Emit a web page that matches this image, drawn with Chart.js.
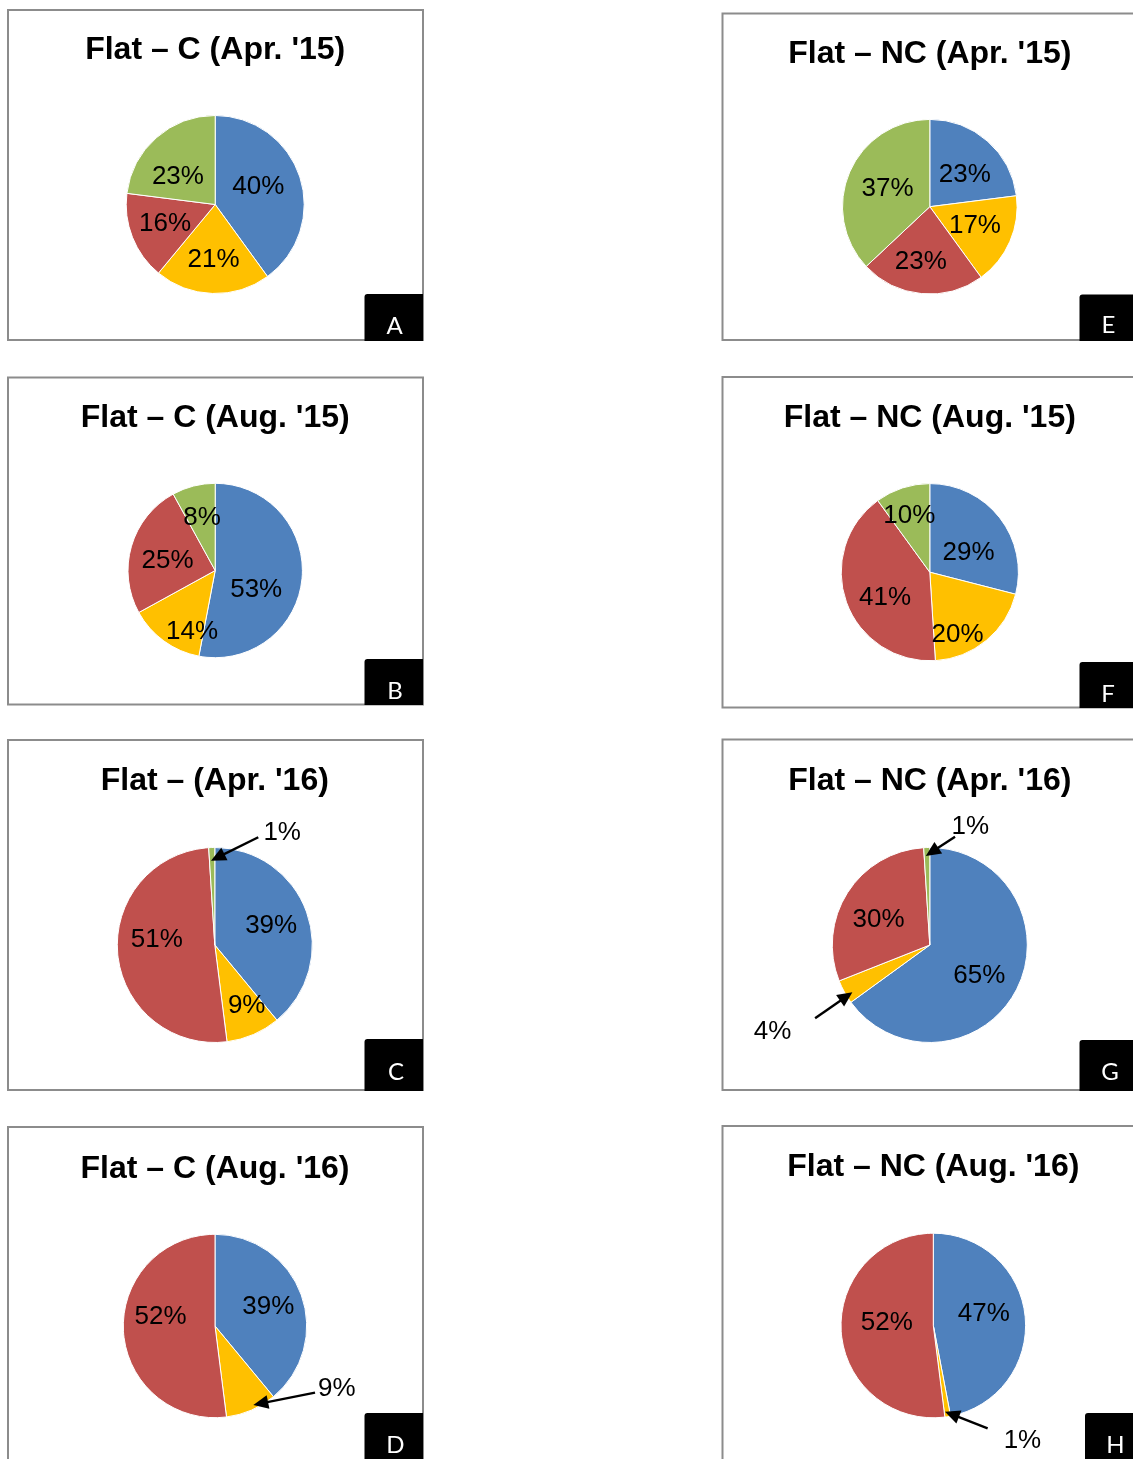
<!DOCTYPE html>
<html>
<head>
<meta charset="utf-8">
<script src="https://cdn.jsdelivr.net/npm/chart.js@4.4.1/dist/chart.umd.min.js"></script>
<style>
  html, body { margin: 0; padding: 0; background: #fff; }
  #page { position: relative; width: 1133px; height: 1459px; overflow: hidden; background: #fff; }
  #page canvas { position: absolute; }
</style>
</head>
<body>
<div id="page"></div>
<script>
// ---- data ---------------------------------------------------------------
const panelTitles = [
  "Flat \u2013 C (Apr. '15)", "Flat \u2013 C (Aug. '15)", "Flat \u2013 (Apr. '16)", "Flat \u2013 C (Aug. '16)",
  "Flat \u2013 NC (Apr. '15)", "Flat \u2013 NC (Aug. '15)", "Flat \u2013 NC (Apr. '16)", "Flat \u2013 NC (Aug. '16)"
];
const panelLetters = ['A', 'B', 'C', 'D', 'E', 'F', 'G', 'H'];
const categories = ['Class 1', 'Class 2', 'Class 3', 'Class 4'];
// share (%) of each class, one entry per panel A..H
const class1Share = [40, 53, 39, 39, 23, 29, 65, 47];
const class2Share = [21, 14,  9,  9, 17, 20,  4,  1];
const class3Share = [16, 25, 51, 52, 23, 41, 30, 52];
const class4Share = [23,  8,  1,  0, 37, 10,  1,  0];

// ---- styles & layout ------------------------------------------------------
const classColors = ['#4F81BD', '#FFC000', '#C0504D', '#9BBB59'];

// frame line centres [left, top, right, bottom]
const frames = [
  [8, 10, 423, 340], [8, 377.5, 423, 704.5], [8, 740, 423, 1090], [8, 1127, 423, 1500],
  [722.5, 13.5, 1137, 340], [722.5, 377, 1137, 707.5], [722.5, 739.5, 1137, 1090], [722.5, 1126, 1146, 1500]
];
// pie centre and radius [cx, cy, r]
const pieGeom = [
  [215.2, 204.5, 89], [215.2, 570.5, 87.2], [214.8, 945, 97.5], [215, 1326, 91.7],
  [929.8, 206.7, 87.3], [929.8, 572.2, 88.6], [929.8, 945, 97.5], [933.3, 1325.5, 92.3]
];
const titleBaselines = [59.3, 426.7, 790, 1178.3, 62.7, 426.7, 790, 1176];
// black corner tag [left, top, right, bottom] and letter [x, baseline]
const tagBoxes = [
  [364.5, 294, 423, 341], [364.5, 659, 423, 705], [364.5, 1039, 423, 1091], [364.5, 1413, 423, 1500],
  [1079.5, 294.5, 1140, 341], [1079.5, 662, 1140, 708], [1079.5, 1040, 1140, 1091], [1085, 1413, 1150, 1500]
];
const tagLetters = [
  [394.5, 333.5], [395, 698.5], [396, 1079.5], [395.5, 1452.5],
  [1108.5, 333], [1108, 701.5], [1110, 1080], [1115.5, 1452.5]
];
// label placement per slice: [angle shift (deg), radius fraction]
// or {arrow: [angle shift, tip radius fraction, tail dx, tail dy, text dx, text dy]}
const labelPlacement = [
  [[-6.6, 0.533], [0, 0.605], [2.2, 0.598], [-10, 0.536]],
  [[17.4, 0.51], [-14.7, 0.73], [-2.9, 0.562], [0.8, 0.645]],
  [[-0.4, 0.616], [-4.9, 0.69], [12, 0.599], {arrow: [-0.8, 0.866, 47.3, -23.4, 71.2, -30.2]}],
  [[-1.7, 0.624], {arrow: [-2.5, 0.957, 61.7, -12.3, 83.4, -18.3]}, [14.7, 0.605], null],
  [[4.4, 0.56], [-2.2, 0.555], [4.2, 0.62], [2.3, 0.538]],
  [[9.3, 0.497], [15.1, 0.754], [-8, 0.571], [-1.5, 0.694]],
  [[3.6, 0.589], {arrow: [-2.6, 0.93, -37.3, 26, -79.8, 37.7]}, [-4.2, 0.597], {arrow: [-0.8, 0.914, 29.3, -19.3, 44.6, -31.3]}],
  [[-9.9, 0.567], {arrow: [1.3, 0.942, 42.7, 16.6, 77.5, 27]}, [9.4, 0.506], null]
];

const TITLE_FONT = 'bold 32px "Liberation Sans", Arial, sans-serif';
const LABEL_FONT = '26px "Liberation Sans", Arial, sans-serif';
const LABEL_DROP = 2; // vertical nudge from em-box middle to digit middle
const TAG_FONT = '24px Lato, "Open Sans", sans-serif';

const page = document.getElementById('page');

function drawArrow(ctx, x0, y0, x1, y1) {
  const ang = Math.atan2(y1 - y0, x1 - x0);
  const headLen = 15, headHalf = 7;
  const bx = x1 - Math.cos(ang) * headLen, by = y1 - Math.sin(ang) * headLen;
  ctx.strokeStyle = '#000';
  ctx.lineWidth = 2.4;
  ctx.beginPath();
  ctx.moveTo(x0, y0);
  ctx.lineTo(bx + Math.cos(ang) * 2, by + Math.sin(ang) * 2);
  ctx.stroke();
  ctx.fillStyle = '#000';
  ctx.beginPath();
  ctx.moveTo(x1, y1);
  ctx.lineTo(bx + Math.sin(ang) * headHalf, by - Math.cos(ang) * headHalf);
  ctx.lineTo(bx - Math.sin(ang) * headHalf, by + Math.cos(ang) * headHalf);
  ctx.closePath();
  ctx.fill();
}

function makeDecor(p, ox, oy) {
  return {
    id: 'panelDecor' + p,
    beforeDraw(chart) {
      const ctx = chart.ctx;
      const [l, t, r, b] = frames[p];
      ctx.save();
      ctx.translate(-ox, -oy);
      ctx.strokeStyle = '#8c8c8c';
      ctx.lineWidth = 2;
      ctx.strokeRect(l, t, r - l, b - t);
      ctx.restore();
    },
    afterDraw(chart) {
      const ctx = chart.ctx;
      const values = chart.data.datasets[0].data;
      const arcs = chart.getDatasetMeta(0).data;
      ctx.save();
      ctx.translate(-ox, -oy);

      // title
      ctx.fillStyle = '#000';
      ctx.font = TITLE_FONT;
      ctx.textAlign = 'center';
      ctx.textBaseline = 'alphabetic';
      ctx.fillText(panelTitles[p], pieGeom[p][0], titleBaselines[p]);

      // slice labels
      ctx.font = LABEL_FONT;
      ctx.textBaseline = 'middle';
      arcs.forEach((arc, i) => {
        const place = labelPlacement[p][i];
        if (!place || !values[i]) return;
        const {x, y, startAngle, endAngle, outerRadius} =
          arc.getProps(['x', 'y', 'startAngle', 'endAngle', 'outerRadius'], true);
        const mid = (startAngle + endAngle) / 2;
        const text = values[i] + '%';
        ctx.fillStyle = '#000';
        if (Array.isArray(place)) {
          const a = mid + place[0] * Math.PI / 180;
          const d = place[1] * outerRadius;
          ctx.fillText(text, x + ox + Math.cos(a) * d, y + oy + Math.sin(a) * d + LABEL_DROP);
        } else {
          const [da, frac, tdx, tdy, lx, ly] = place.arrow;
          const a = mid + da * Math.PI / 180;
          const tipX = x + ox + Math.cos(a) * frac * outerRadius;
          const tipY = y + oy + Math.sin(a) * frac * outerRadius;
          drawArrow(ctx, tipX + tdx, tipY + tdy, tipX, tipY);
          ctx.fillStyle = '#000';
          ctx.fillText(text, tipX + lx, tipY + ly + LABEL_DROP);
        }
      });

      // corner tag
      const [tl, tt, tr, tb] = tagBoxes[p];
      ctx.fillStyle = '#000';
      ctx.beginPath();
      ctx.roundRect(tl, tt, tr - tl, tb - tt, [3, 0, 0, 0]);
      ctx.fill();
      ctx.fillStyle = '#fff';
      ctx.font = TAG_FONT;
      ctx.textAlign = 'center';
      ctx.textBaseline = 'alphabetic';
      ctx.fillText(panelLetters[p], tagLetters[p][0], tagLetters[p][1]);
      ctx.restore();
    }
  };
}

panelTitles.forEach((title, p) => {
  const [l, t, r, b] = frames[p];
  const ox = Math.floor(l - 2), oy = Math.floor(t - 2);
  const w = Math.ceil(Math.max(r, tagBoxes[p][2]) + 2) - ox;
  const h = Math.ceil(Math.max(b, tagBoxes[p][3]) + 2) - oy;
  const canvas = document.createElement('canvas');
  canvas.width = w; canvas.height = h;
  canvas.style.left = ox + 'px'; canvas.style.top = oy + 'px';
  canvas.style.width = w + 'px'; canvas.style.height = h + 'px';
  page.appendChild(canvas);

  const [cx, cy, rad] = pieGeom[p];
  const lx = cx - ox, ly = cy - oy, m = rad + 4;

  new Chart(canvas, {
    type: 'pie',
    data: {
      labels: categories,
      datasets: [{
        data: [class1Share[p], class2Share[p], class3Share[p], class4Share[p]],
        backgroundColor: classColors,
        borderColor: '#ffffff',
        borderWidth: 1,
        radius: rad
      }]
    },
    options: {
      responsive: false,
      animation: false,
      events: [],
      layout: {
        padding: { left: lx - m, right: w - (lx + m), top: ly - m, bottom: h - (ly + m) }
      },
      plugins: {
        legend: { display: false },
        tooltip: { enabled: false },
        title: { display: false }
      }
    },
    plugins: [makeDecor(p, ox, oy)]
  });
});
</script>
</body>
</html>
